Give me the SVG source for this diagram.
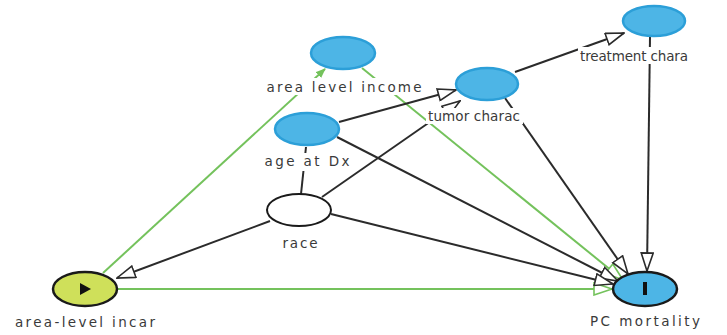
<svg xmlns="http://www.w3.org/2000/svg" width="727" height="335" viewBox="0 0 727 335">
<style>
.e{fill:none;stroke:#2b2b2b;stroke-width:2}
.g{fill:none;stroke:#74c25c;stroke-width:2}
.blue{fill:#4db5e6;stroke:#2c9fd8;stroke-width:2.5}
.lbl{font-family:"DejaVu Sans","Liberation Sans",sans-serif;font-size:13.5px;fill:#3a3a3a;text-anchor:middle}
.bg{fill:#fff}
</style>
<defs>
<marker id="ab" markerUnits="userSpaceOnUse" viewBox="0 0 20 14" refX="19" refY="7" markerWidth="20" markerHeight="14" orient="auto">
<path d="M1,1 L19,7 L1,13 Z" fill="#fff" stroke="#2b2b2b" stroke-width="1.6"/>
</marker>
<marker id="ag" markerUnits="userSpaceOnUse" viewBox="0 0 20 14" refX="19" refY="7" markerWidth="20" markerHeight="14" orient="auto">
<path d="M1,1 L19,7 L1,13 Z" fill="#fff" stroke="#74c25c" stroke-width="1.6"/>
</marker>
<marker id="agf" markerUnits="userSpaceOnUse" viewBox="0 0 10 8" refX="9" refY="4" markerWidth="10" markerHeight="8" orient="auto">
<path d="M0,0 L10,4 L0,8 Z" fill="#74c25c"/>
</marker>
</defs>
<rect width="727" height="335" fill="#fff"/>
<g id="connectors">
<line class="g" x1="117" y1="289" x2="612" y2="289" marker-end="url(#ag)"/>
<line class="g" x1="362" y1="68" x2="623" y2="280" marker-end="url(#ag)"/>
<line class="g" x1="103" y1="273" x2="325" y2="69" marker-end="url(#agf)"/>
<line class="e" x1="337" y1="137" x2="618" y2="281" marker-end="url(#ab)"/>
<line class="e" x1="331" y1="214" x2="613" y2="284" marker-end="url(#ab)"/>
<line class="e" x1="505" y1="98" x2="628" y2="274" marker-end="url(#ab)"/>
<line class="e" x1="650" y1="37" x2="647" y2="271" marker-end="url(#ab)"/>
<line class="e" x1="339" y1="122" x2="456" y2="90" marker-end="url(#ab)"/>
<line class="e" x1="322" y1="197" x2="460" y2="101" marker-end="url(#ab)"/>
<line class="e" x1="270" y1="221" x2="117" y2="278" marker-end="url(#ab)"/>
<line class="e" x1="515" y1="72" x2="624" y2="33" marker-end="url(#ab)"/>
<line class="e" x1="301" y1="194" x2="306" y2="147"/>
</g>
<g id="area_level_income">
<ellipse class="blue" cx="343" cy="53" rx="32" ry="16"/>
<rect class="bg" x="265" y="78" width="159" height="17"/>
<text class="lbl" x="344" y="92" textLength="155" lengthAdjust="spacing">area level income</text>
</g>
<g id="tumor_charac">
<ellipse class="blue" cx="487" cy="84" rx="31" ry="16"/>
<rect class="bg" x="426" y="108" width="97" height="16"/>
<text class="lbl" x="474" y="121" textLength="92" lengthAdjust="spacing">tumor charac</text>
</g>
<g id="treatment_chara">
<ellipse class="blue" cx="654" cy="21" rx="31" ry="15"/>
<rect class="bg" x="578" y="47" width="112" height="17"/>
<text class="lbl" x="634" y="61" textLength="108" lengthAdjust="spacing">treatment chara</text>
</g>
<g id="age_at_dx">
<ellipse class="blue" cx="307" cy="129" rx="32" ry="16"/>
<rect class="bg" x="263" y="153" width="89" height="18"/>
<text class="lbl" x="307" y="166" textLength="85" lengthAdjust="spacing">age at Dx</text>
</g>
<g id="race">
<ellipse cx="299" cy="210" rx="32" ry="16" fill="#fff" stroke="#1a1a1a" stroke-width="2"/>
<rect class="bg" x="280" y="236" width="40" height="15"/>
<text class="lbl" x="300" y="248" textLength="35" lengthAdjust="spacing">race</text>
</g>
<g id="area_level_incar">
<ellipse cx="85" cy="289" rx="32" ry="17" fill="#cfe05a" stroke="#1a1a1a" stroke-width="2.5"/>
<path d="M80,283 L91,289 L80,295 Z" fill="#111"/>
<text class="lbl" x="85" y="327" textLength="140" lengthAdjust="spacing">area-level incar</text>
</g>
<g id="pc_mortality">
<ellipse cx="645" cy="289" rx="32" ry="17" fill="#4db5e6" stroke="#1a1a1a" stroke-width="2.5"/>
<rect x="643" y="282" width="4" height="13" fill="#111"/>
<text class="lbl" x="645" y="326" textLength="110" lengthAdjust="spacing">PC mortality</text>
</g>
</svg>
